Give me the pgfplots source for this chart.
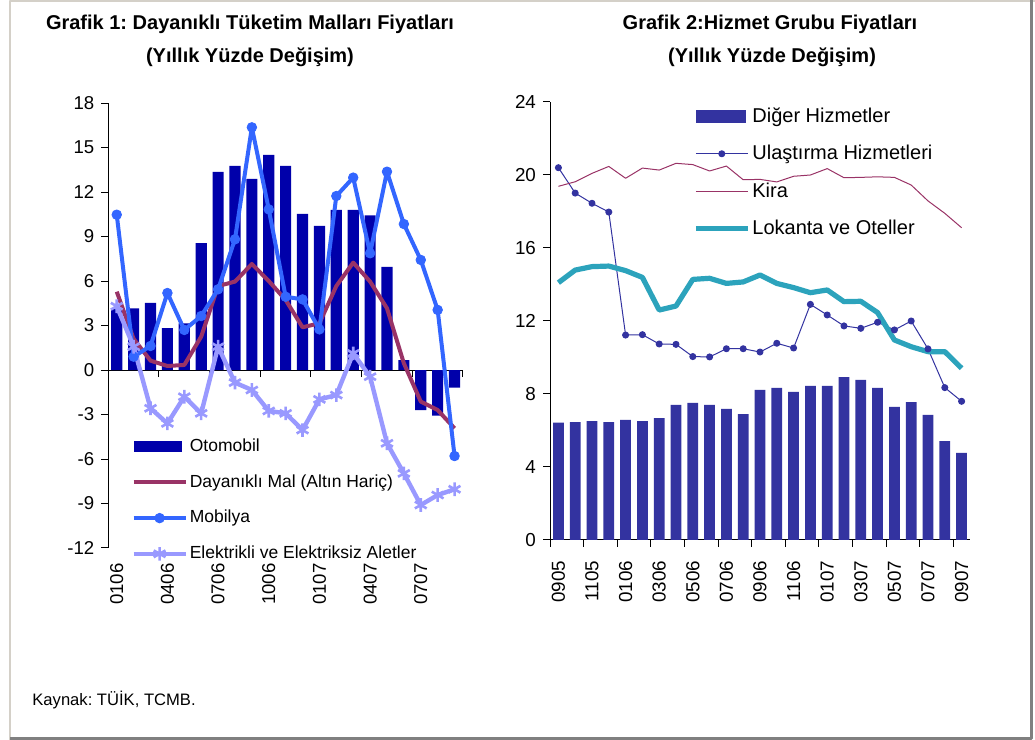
\documentclass[border=0pt]{standalone}
\usepackage{fontspec}
\setmainfont{Liberation Sans}
\usepackage{pgfplots}
\usepackage{pgfplotstable}
\pgfplotsset{compat=1.18}
\frenchspacing

\definecolor{oto}{HTML}{0000AA}
\definecolor{dmal}{HTML}{993366}
\definecolor{mob}{HTML}{3366FF}
\definecolor{elek}{HTML}{9999FF}
\definecolor{diger}{HTML}{3333A0}
\definecolor{lok}{HTML}{2CA3BC}
\definecolor{frameL}{HTML}{D4D0C8}
\definecolor{frameD}{HTML}{808080}

\pgfplotsset{
  legline/.style={legend image code/.code={%
    \draw[mark repeat=2,mark phase=2,##1] plot coordinates {(0pt,0pt) (13pt,0pt) (26pt,0pt)};}},
}
\tikzset{catlab/.style={rotate=90, anchor=east, inner xsep=7.5pt, inner ysep=0pt, font=\fontsize{9.3}{10}\selectfont}}

% Grafik 1: 0106 ... 0907
\pgfplotstableread{
i  oto    dmal   mob    elek
0  4.16   5.28   10.47  4.30
1  4.16   2.10   0.90   1.57
2  4.52   0.63   1.62  -2.58
3  2.83   0.27   5.19  -3.60
4  3.15   0.34   2.70  -1.80
5  8.56   2.25   3.64  -2.92
6  13.35  5.66   5.44   1.57
7  13.76  5.96   8.81  -0.85
8  12.88  7.15   16.36 -1.35
9  14.50  6.00   10.83 -2.76
10 13.76  4.72   4.94  -2.92
11 10.52  2.88   4.76  -4.05
12 9.71   3.15   2.74  -1.98
13 10.79  5.66   11.73 -1.69
14 10.79  7.24   12.97  1.12
15 10.43  5.96   7.87  -0.45
16 6.95   4.16   13.37 -4.94
17 0.67   0.45   9.84  -6.97
18 -2.70 -2.13   7.42  -9.10
19 -3.08 -2.70   4.05  -8.43
20 -1.19 -3.93  -5.80  -8.04
}\dayanikli

% Grafik 2: 0905 ... 0907
\pgfplotstableread{
i  diger ulas   kira   lok
0  6.43  20.40  19.38  14.10
1  6.46  19.01  19.63  14.79
2  6.52  18.45  20.09  14.98
3  6.46  17.97  20.47  15.01
4  6.58  11.23  19.82  14.76
5  6.52  11.25  20.38  14.39
6  6.68  10.74  20.27  12.60
7  7.40  10.72  20.64  12.82
8  7.51  10.05  20.57  14.28
9  7.40  10.03  20.22  14.34
10 7.18  10.48  20.49  14.06
11 6.90  10.48  19.74  14.14
12 8.22  10.30  19.76  14.52
13 8.33  10.78  19.62  14.06
14 8.11  10.52  19.93  13.83
15 8.44  12.91  20.00  13.55
16 8.44  12.33  20.35  13.70
17 8.93  11.73  19.85  13.06
18 8.77  11.60  19.87  13.08
19 8.33  11.93  19.90  12.46
20 7.29  11.51  19.87  10.96
21 7.56  12.00  19.45  10.59
22 6.85  10.47  18.58  10.32
23 5.42   8.35  17.90  10.32
24 4.77   7.60  17.11   9.41
}\hizmet

\begin{document}
\begin{tikzpicture}[line join=round]
\useasboundingbox (0,0) rectangle (517.5pt,370pt);
\draw[frameL, line width=1.2pt] (5pt,0pt) -- (5pt,369.4pt) -- (517.5pt,369.4pt);
\draw[frameD, line width=1.5pt] (5pt,0.9pt) -- (515.8pt,0.9pt) -- (515.8pt,370pt);

\node[font=\bfseries\fontsize{10}{12}\selectfont, anchor=base] at (125pt,355pt) {Grafik 1: Dayanıklı Tüketim Malları Fiyatları};
\node[font=\bfseries\fontsize{10}{12}\selectfont, anchor=base] at (125pt,338.5pt) {(Yıllık Yüzde Değişim)};
\node[font=\bfseries\fontsize{10}{12}\selectfont, anchor=base] at (385pt,355pt) {Grafik 2:Hizmet Grubu Fiyatları};
\node[font=\bfseries\fontsize{10}{12}\selectfont, anchor=base] at (386pt,338.5pt) {(Yıllık Yüzde Değişim)};
\node[font=\fontsize{8.3}{10}\selectfont, anchor=base west, inner sep=0pt] at (16pt,17pt) {Kaynak: TÜİK, TCMB.};

\begin{axis}[
  at={(54.15pt,96pt)}, anchor=south west,
  scale only axis, width=177.35pt, height=222.5pt,
  xmin=-0.5, xmax=20.5, ymin=-12, ymax=18,
  axis x line*=middle, axis y line*=left,
  ytick={-12,-9,...,18},
  xtick={2.5,5.5,...,20.5}, xticklabels={},
  tick align=outside, major tick length=3.5pt,
  tick style={black, line width=0.5pt},
  axis line style={black, line width=0.5pt},
  ticklabel style={font=\fontsize{9.3}{10}\selectfont},
  /pgf/number format/assume math mode=true,
  clip=false,
  every axis plot/.append style={line join=round},
  legend cell align=left,
  legend style={at={(0.064,0.255)}, anchor=north west, draw=none, fill=none,
    inner sep=0pt, font=\fontsize{8.75}{10}\selectfont, row sep=6pt,
    nodes={inner xsep=1pt, inner ysep=2pt}},
]
\addplot[ybar, bar width=0.66, bar shift=0pt, fill=oto, draw=none,
  legend image code/.code={\fill[oto] (0pt,-2.7pt) rectangle (24pt,2.7pt);}]
  table[x=i, y=oto] {\dayanikli};
\addlegendentry{Otomobil}
\addplot[dmal, line width=2pt, mark=none, legline] table[x=i, y=dmal] {\dayanikli};
\addlegendentry{Dayanıklı Mal (Altın Hariç)}
\addplot[mob, line width=2pt, mark=*, mark size=2.4pt, mark options={fill=mob, draw=mob, line width=0.4pt}, legline]
  table[x=i, y=mob] {\dayanikli};
\addlegendentry{Mobilya}
\addplot[elek, line width=2.2pt, mark=asterisk, mark size=3.4pt, mark options={line width=1.3pt}, legline]
  table[x=i, y=elek] {\dayanikli};
\addlegendentry{Elektrikli ve Elektriksiz Aletler}
\node[catlab] at (axis cs:0,-12) {0106};
\node[catlab] at (axis cs:3,-12) {0406};
\node[catlab] at (axis cs:6,-12) {0706};
\node[catlab] at (axis cs:9,-12) {1006};
\node[catlab] at (axis cs:12,-12) {0107};
\node[catlab] at (axis cs:15,-12) {0407};
\node[catlab] at (axis cs:18,-12) {0707};
\end{axis}

\begin{axis}[
  at={(275pt,100pt)}, anchor=south west,
  scale only axis, width=210pt, height=219pt,
  xmin=-0.5, xmax=24.5, ymin=0, ymax=24,
  axis x line*=bottom, axis y line*=left,
  ytick={0,4,...,24},
  xtick={-0.5,1.5,...,23.5}, xticklabels={},
  extra x ticks={0,2,...,24},
  extra x tick labels={0905,1105,0106,0306,0506,0706,0906,1106,0107,0307,0507,0707,0907},
  extra x tick style={major tick length=0pt,
    xticklabel style={rotate=90, anchor=east, xshift=-7pt}},
  tick align=outside, major tick length=3.5pt,
  tick style={black, line width=0.5pt},
  axis line style={black, line width=0.5pt},
  ticklabel style={font=\fontsize{9.4}{10}\selectfont},
  /pgf/number format/assume math mode=true,
  every axis plot/.append style={line join=round},
  legend cell align=left,
  legend style={at={(0.34,0.998)}, anchor=north west, draw=none, fill=none,
    inner sep=0pt, font=\fontsize{10}{12}\selectfont, row sep=6pt,
    nodes={inner xsep=1pt, inner ysep=2pt}},
]
\addplot[ybar, bar width=0.64, bar shift=0pt, fill=diger, draw=none,
  legend image code/.code={\fill[diger] (0pt,-3.2pt) rectangle (25pt,3.2pt);}]
  table[x=i, y=diger] {\hizmet};
\addlegendentry{Diğer Hizmetler}
\addplot[diger, line width=0.5pt, mark=*, mark size=1.5pt, mark options={fill=diger, draw=diger}, legline]
  table[x=i, y=ulas] {\hizmet};
\addlegendentry{Ulaştırma Hizmetleri}
\addplot[dmal, line width=0.5pt, mark=none, legline] table[x=i, y=kira] {\hizmet};
\addlegendentry{Kira}
\addplot[lok, line width=2.6pt, mark=none, legline] table[x=i, y=lok] {\hizmet};
\addlegendentry{Lokanta ve Oteller}
\end{axis}
\end{tikzpicture}
\end{document}
